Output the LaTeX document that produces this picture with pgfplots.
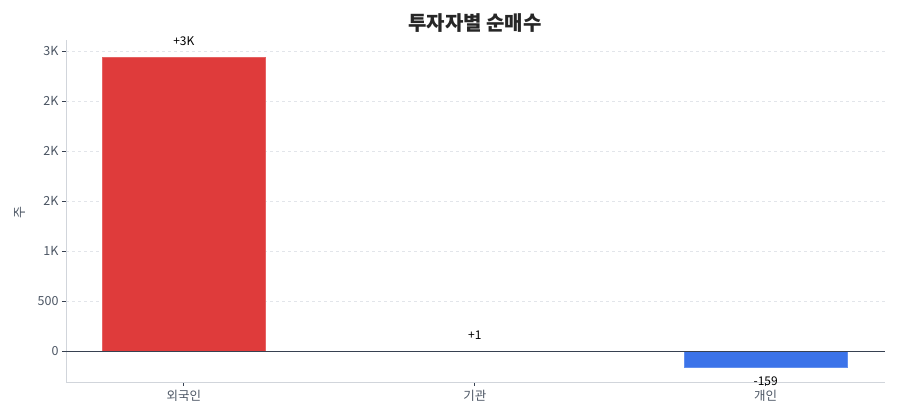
\documentclass[border=0pt]{standalone}
\usepackage{pgfplots}
\pgfplotsset{compat=1.18}
\usepackage{fontspec}
\setmainfont{Noto Sans CJK KR}
\definecolor{barred}{HTML}{DF3B3B}
\definecolor{barblue}{HTML}{3B73E9}
\definecolor{ticktext}{HTML}{4B5563}
\definecolor{gridc}{HTML}{E2E5EA}
\definecolor{axisc}{HTML}{D1D5DB}
\definecolor{zeroc}{HTML}{374151}
\begin{document}
\begin{tikzpicture}[x=1pt,y=1pt]
\path[use as bounding box] (0,0) rectangle (900,420);
\begin{axis}[
    at={(66pt,38pt)}, anchor=south west,
    scale only axis,
    width=819pt, height=342pt,
    xmin=-0.405, xmax=2.41,
    ymin=-310, ymax=3110,
    xtick={0,1,2},
    xticklabels={외국인,기관,개인},
    ytick={0,500,1000,1500,2000,2500,3000},
    yticklabels={0,500,1K,2K,2K,2K,3K},
    tick label style={font=\fontsize{12.5}{14}\selectfont, text=ticktext},
    axis x line*=bottom, axis y line*=left,
    axis line style={axisc, line width=0.8pt},
    tick style={zeroc, line width=0.8pt},
    tick align=outside,
    major tick length=4pt,
    ymajorgrids,
    grid style={gridc, dashed, line width=0.7pt},
    xticklabel style={yshift=-1pt},
    clip=false,
]
\addplot[ybar, bar width=0.56, fill=barred, draw=barred!80!white, line width=0.4pt]
    coordinates {(0,2940)};
\addplot[ybar, bar width=0.56, fill=barred, draw=barred!80!white, line width=0.4pt]
    coordinates {(1,1)};
\addplot[ybar, bar width=0.56, fill=barblue, draw=barblue!80!white, line width=0.4pt]
    coordinates {(2,-159)};
\draw[zeroc, line width=0.9pt] (axis cs:-0.405,0) -- (axis cs:2.41,0);
\node[font=\fontsize{12}{14}\selectfont, anchor=south] at (axis cs:0,2940) [yshift=8pt] {+3K};
\node[font=\fontsize{12}{14}\selectfont, anchor=south] at (axis cs:1,1) [yshift=8pt] {+1};
\node[font=\fontsize{12}{14}\selectfont, anchor=north] at (axis cs:2,-159) [yshift=-6pt] {-159};
\end{axis}
\node[rotate=90, font=\fontsize{13}{15}\selectfont, text=ticktext] at (20,207) {주};
\node[font=\fontsize{20}{24}\selectfont\bfseries, text=black!85] at (475,397) {투자자별 순매수};
\end{tikzpicture}
\end{document}
